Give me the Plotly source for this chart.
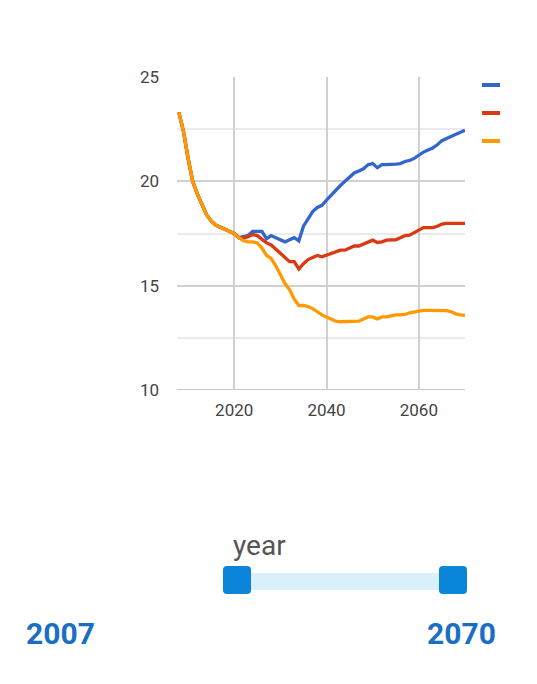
import plotly.graph_objects as go

# ---------------- data ----------------
years = list(range(2008, 2071))
history = [23.3, 22.4, 21.1, 20.0, 19.4, 18.9, 18.4, 18.1, 17.9, 17.8, 17.7, 17.6]  # 2008-2019

blue_future = [17.5, 17.3, 17.35, 17.4, 17.6, 17.62, 17.6, 17.25, 17.4, 17.3,
               17.2, 17.1, 17.2, 17.3, 17.15, 17.85, 18.2, 18.55, 18.75, 18.85,
               19.1, 19.35, 19.55, 19.8, 20.0, 20.2, 20.4, 20.5, 20.6, 20.8,
               20.85, 20.65, 20.8, 20.8, 20.8, 20.82, 20.85, 20.95, 21.0, 21.1,
               21.25, 21.4, 21.5, 21.6, 21.75, 21.95, 22.05, 22.15, 22.25, 22.35,
               22.45]
red_future = [17.5, 17.3, 17.27, 17.35, 17.45, 17.4, 17.2, 17.05, 16.95, 16.75,
              16.5, 16.3, 16.15, 16.15, 15.8, 16.05, 16.25, 16.35, 16.45, 16.38,
              16.45, 16.55, 16.6, 16.7, 16.7, 16.8, 16.9, 16.9, 17.0, 17.1,
              17.18, 17.07, 17.1, 17.18, 17.18, 17.2, 17.3, 17.4, 17.42, 17.55,
              17.65, 17.78, 17.78, 17.78, 17.85, 17.95, 17.99, 17.99, 17.99, 17.99,
              17.99]
orange_future = [17.5, 17.3, 17.15, 17.1, 17.1, 17.05, 16.8, 16.45, 16.3, 15.95,
                 15.5, 15.1, 14.8, 14.35, 14.05, 14.05, 14.0, 13.9, 13.75, 13.6,
                 13.5, 13.4, 13.3, 13.27, 13.27, 13.27, 13.27, 13.3, 13.4, 13.5,
                 13.5, 13.4, 13.5, 13.5, 13.55, 13.6, 13.6, 13.62, 13.7, 13.75,
                 13.8, 13.82, 13.82, 13.82, 13.82, 13.82, 13.8, 13.75, 13.65, 13.6,
                 13.58]

series_names = ["Series 1", "Series 2", "Series 3"]
series_values = [history + blue_future, history + red_future, history + orange_future]
series_colors = ["#3366cc", "#dc3912", "#ff9900"]

x_ticks = [2020, 2040, 2060]
y_ticks = [10, 15, 20, 25]
y_minor = [12.5, 17.5, 22.5]
slider_label = "year"
slider_min, slider_max = 2007, 2070

# ---------------- layout geometry ----------------
OFF = 8  # page body margin
W, H = 537, 684
ML, MT = 177 - OFF, 77 - OFF
PW, PH = 288, 313
MR, MB = W - ML - PW, H - MT - PH


def px(x):
    return (x - OFF - ML) / PW


def py(y):
    return (MT + PH - (y - OFF)) / PH


def rrect(x0, y0, x1, y1, r):
    pts = [
        f"M {px(x0 + r)} {py(y0)}",
        f"L {px(x1 - r)} {py(y0)}",
        f"Q {px(x1)} {py(y0)} {px(x1)} {py(y0 + r)}",
        f"L {px(x1)} {py(y1 - r)}",
        f"Q {px(x1)} {py(y1)} {px(x1 - r)} {py(y1)}",
        f"L {px(x0 + r)} {py(y1)}",
        f"Q {px(x0)} {py(y1)} {px(x0)} {py(y1 - r)}",
        f"L {px(x0)} {py(y0 + r)}",
        f"Q {px(x0)} {py(y0)} {px(x0 + r)} {py(y0)}",
        "Z",
    ]
    return " ".join(pts)


fig = go.Figure()
for name, vals, col in zip(series_names, series_values, series_colors):
    fig.add_trace(go.Scatter(x=years, y=vals, mode="lines", name=name,
                             line=dict(color=col, width=3.3), showlegend=False,
                             hoverinfo="x+y+name"))

shapes = []
shapes.append(dict(type="line", xref="paper", yref="y", x0=0, x1=1, y0=10, y1=10,
                   line=dict(color="#b3b3b3", width=1.6), layer="below"))
for i, col in enumerate(series_colors):
    yy = 85 + i * 28
    shapes.append(dict(type="line", xref="paper", yref="paper",
                       x0=px(482), x1=px(500), y0=py(yy), y1=py(yy),
                       line=dict(color=col, width=4)))
shapes.append(dict(type="rect", xref="paper", yref="paper",
                   x0=px(236), x1=px(454), y0=py(590), y1=py(573),
                   line=dict(width=0), fillcolor="#d9effc"))
for hx in (223, 439):
    shapes.append(dict(type="path", xref="paper", yref="paper",
                       path=rrect(hx, 566, hx + 28, 594, 4),
                       line=dict(width=0), fillcolor="#0a85d9"))

annotations = [
    dict(xref="paper", yref="paper", x=px(231), y=py(545), xanchor="left", yanchor="middle",
         text=slider_label, showarrow=False,
         font=dict(family="Roboto", size=28, color="#555555")),
    dict(xref="paper", yref="paper", x=px(60), y=py(633), xanchor="center", yanchor="middle",
         text=str(slider_min), showarrow=False,
         font=dict(family="Roboto", size=30, color="#1a6fc4", weight="bold")),
    dict(xref="paper", yref="paper", x=px(461), y=py(633), xanchor="center", yanchor="middle",
         text=str(slider_max), showarrow=False,
         font=dict(family="Roboto", size=30, color="#1a6fc4", weight="bold")),
]

fig.update_layout(
    width=W, height=H, autosize=False,
    margin=dict(l=ML, r=MR, t=MT, b=MB, pad=0),
    paper_bgcolor="white", plot_bgcolor="white",
    font=dict(family="Roboto", color="#444444"),
    shapes=shapes, annotations=annotations,
    xaxis=dict(range=[2007.6, 2070], tickvals=x_ticks, showgrid=True,
               gridcolor="#d0d0d0", gridwidth=1.6, zeroline=False, showline=False,
               ticks="", tickfont=dict(family="Roboto", size=17, color="#444444"),
               ticklabelstandoff=8, fixedrange=True),
    yaxis=dict(range=[10, 25], tickvals=y_ticks, showgrid=True,
               gridcolor="#d0d0d0", gridwidth=1.6, zeroline=False, showline=False,
               ticks="", tickfont=dict(family="Roboto", size=17, color="#444444"),
               ticklabelstandoff=17, fixedrange=True,
               minor=dict(tickvals=y_minor, showgrid=True, gridcolor="#ebebeb", gridwidth=1.6)),
)

fig.write_html("out.html", config={"displayModeBar": False})
